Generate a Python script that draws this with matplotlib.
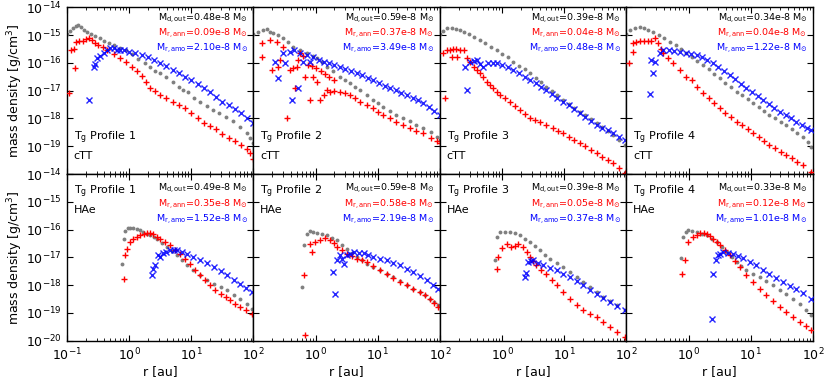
import matplotlib
matplotlib.use("Agg")
import matplotlib.pyplot as plt
from matplotlib.ticker import FixedLocator, FuncFormatter, LogLocator, NullFormatter, NullLocator
import numpy as np

# (log10 r [au], log10 rho [g/cm^3]) pairs
# gray = outer dust, red = annealed, blue = amorphous

ctt1_out = [(-1.0, -14.95), (-0.95, -14.85), (-0.9, -14.75), (-0.85, -14.68), (-0.82, -14.64), (-0.78, -14.7),
            (-0.73, -14.8), (-0.68, -14.88), (-0.62, -14.95), (-0.55, -15.02), (-0.47, -15.12), (-0.4, -15.2),
            (-0.32, -15.28), (-0.25, -15.36), (-0.15, -15.45), (-0.05, -15.55), (0.05, -15.68), (0.15, -15.85),
            (0.25, -16.0), (0.34, -16.14), (0.42, -16.28), (0.5, -16.38), (0.6, -16.5), (0.7, -16.7), (0.8, -16.88),
            (0.87, -16.98), (0.95, -17.05), (1.05, -17.25), (1.14, -17.4), (1.25, -17.55), (1.35, -17.68),
            (1.45, -17.8), (1.55, -17.95), (1.67, -18.1), (1.78, -18.3), (1.89, -18.54), (1.95, -18.7), (2.0, -18.9)]
ctt1_ann = [(-0.96, -17.07), (-0.87, -16.2), (-0.93, -15.52), (-0.88, -15.5), (-0.85, -15.25), (-0.8, -15.22),
            (-0.75, -15.2), (-0.7, -15.15), (-0.65, -15.12), (-0.6, -15.18), (-0.55, -15.28), (-0.5, -15.35),
            (-0.42, -15.42), (-0.35, -15.52), (-0.25, -15.68), (-0.15, -15.82), (-0.05, -15.98), (0.05, -16.15),
            (0.12, -16.3), (0.2, -16.48), (0.27, -16.68), (0.34, -16.9), (0.42, -17.0), (0.5, -17.15), (0.6, -17.28),
            (0.7, -17.42), (0.8, -17.52), (0.9, -17.62), (1.0, -17.82), (1.1, -18.0), (1.2, -18.15), (1.3, -18.26),
            (1.4, -18.38), (1.5, -18.55), (1.6, -18.72), (1.7, -18.82), (1.8, -18.96), (1.9, -19.1), (1.95, -19.25),
            (2.0, -19.45)]
ctt1_amo = [(-0.64, -17.34), (-0.57, -16.14), (-0.55, -16.05), (-0.52, -15.84), (-0.47, -15.75), (-0.41, -15.66),
            (-0.35, -15.55), (-0.3, -15.48), (-0.25, -15.45), (-0.2, -15.54), (-0.15, -15.52), (-0.08, -15.55),
            (0.0, -15.6), (0.1, -15.65), (0.2, -15.7), (0.3, -15.8), (0.4, -15.9), (0.5, -16.02), (0.6, -16.12),
            (0.7, -16.25), (0.8, -16.38), (0.9, -16.5), (1.0, -16.62), (1.1, -16.75), (1.2, -16.9), (1.3, -17.05),
            (1.4, -17.22), (1.5, -17.4), (1.6, -17.52), (1.7, -17.65), (1.8, -17.8), (1.9, -17.98), (2.0, -18.18)]

ctt2_out = [(-1.0, -14.95), (-0.93, -14.88), (-0.85, -14.82), (-0.79, -14.79), (-0.74, -14.88), (-0.68, -14.93),
            (-0.6, -15.0), (-0.52, -15.11), (-0.44, -15.25), (-0.36, -15.41), (-0.25, -15.52), (-0.14, -15.65),
            (-0.05, -15.75), (0.02, -15.83), (0.1, -15.98), (0.18, -16.13), (0.28, -16.3), (0.39, -16.49),
            (0.47, -16.6), (0.55, -16.73), (0.63, -16.85), (0.71, -16.97), (0.82, -17.15), (0.93, -17.33),
            (1.0, -17.45), (1.09, -17.57), (1.2, -17.72), (1.3, -17.87), (1.4, -17.98), (1.52, -18.1),
            (1.62, -18.22), (1.73, -18.35), (1.85, -18.5), (1.95, -18.65), (2.0, -18.77)]
ctt2_ann = [(-0.87, -15.77), (-0.87, -15.29), (-0.73, -15.17), (-0.71, -16.25), (-0.62, -15.23), (-0.6, -16.13),
            (-0.57, -15.89), (-0.52, -15.41), (-0.46, -17.99), (-0.41, -16.25), (-0.36, -16.19), (-0.33, -16.91),
            (-0.3, -16.13), (-0.28, -15.89), (-0.25, -15.65), (-0.2, -15.75), (-0.17, -16.49), (-0.12, -16.07),
            (-0.09, -17.33), (-0.06, -16.1), (-0.04, -16.49), (0.0, -16.2), (0.02, -16.67), (0.07, -17.33),
            (0.08, -16.3), (0.13, -17.15), (0.15, -16.4), (0.18, -16.97), (0.23, -17.03), (0.22, -16.5),
            (0.3, -16.6), (0.3, -17.0), (0.39, -17.03), (0.47, -17.1), (0.55, -17.15), (0.63, -17.28),
            (0.71, -17.39), (0.82, -17.5), (0.93, -17.63), (1.0, -17.75), (1.09, -17.87), (1.2, -17.98),
            (1.3, -18.11), (1.4, -18.22), (1.52, -18.35), (1.62, -18.45), (1.73, -18.53), (1.85, -18.7),
            (1.95, -18.82), (2.0, -18.89)]
ctt2_amo = [(-0.65, -15.95), (-0.6, -16.55), (-0.52, -15.65), (-0.49, -16.01), (-0.41, -15.59), (-0.38, -17.33),
            (-0.35, -15.55), (-0.28, -16.91), (-0.25, -15.65), (-0.2, -15.95), (-0.14, -15.72), (-0.09, -15.95),
            (-0.05, -15.8), (0.05, -15.88), (0.13, -15.95), (0.22, -16.02), (0.3, -16.08), (0.39, -16.13),
            (0.48, -16.22), (0.57, -16.3), (0.66, -16.37), (0.75, -16.45), (0.84, -16.53), (0.93, -16.61),
            (1.02, -16.72), (1.11, -16.82), (1.2, -16.91), (1.29, -16.99), (1.38, -17.07), (1.47, -17.15),
            (1.56, -17.25), (1.65, -17.35), (1.73, -17.45), (1.82, -17.58), (1.91, -17.72), (2.0, -17.87)]

ctt3_out = [(-1.0, -14.95), (-0.95, -14.85), (-0.88, -14.76), (-0.81, -14.73), (-0.74, -14.78), (-0.68, -14.83),
            (-0.62, -14.87), (-0.54, -14.95), (-0.45, -15.06), (-0.36, -15.17), (-0.27, -15.3), (-0.18, -15.42),
            (-0.09, -15.53), (0.0, -15.67), (0.09, -15.8), (0.18, -15.95), (0.27, -16.1), (0.36, -16.23),
            (0.45, -16.37), (0.54, -16.53), (0.62, -16.69), (0.71, -16.85), (0.8, -17.0), (0.89, -17.17),
            (0.98, -17.33), (1.07, -17.47), (1.16, -17.61), (1.25, -17.75), (1.34, -17.89), (1.43, -18.03),
            (1.52, -18.17), (1.61, -18.31), (1.7, -18.45), (1.79, -18.59), (1.88, -18.78), (1.97, -18.95)]
ctt3_ann = [(-0.92, -17.27), (-0.95, -15.65), (-0.89, -15.53), (-0.84, -15.52), (-0.79, -15.5), (-0.74, -15.5),
            (-0.68, -15.52), (-0.62, -15.55), (-0.8, -15.77), (-0.72, -15.77), (-0.57, -15.83), (-0.52, -15.98),
            (-0.46, -16.13), (-0.41, -16.25), (-0.36, -16.37), (-0.3, -16.52), (-0.25, -16.67), (-0.19, -16.8),
            (-0.14, -16.91), (-0.09, -17.03), (-0.04, -17.15), (0.04, -17.25), (0.13, -17.39), (0.21, -17.55),
            (0.29, -17.69), (0.37, -17.85), (0.45, -17.99), (0.53, -18.05), (0.61, -18.11), (0.71, -18.22),
            (0.82, -18.35), (0.9, -18.44), (0.98, -18.53), (1.07, -18.65), (1.16, -18.77), (1.25, -18.89),
            (1.34, -19.0), (1.43, -19.13), (1.52, -19.25), (1.61, -19.37), (1.7, -19.49), (1.79, -19.61),
            (1.88, -19.8), (1.97, -19.97)]
ctt3_amo = [(-0.57, -16.97), (-0.6, -16.13), (-0.52, -15.95), (-0.46, -15.92), (-0.41, -15.89), (-0.35, -16.05),
            (-0.3, -16.13), (-0.22, -16.01), (-0.15, -16.0), (-0.09, -16.01), (0.0, -16.08), (0.09, -16.16),
            (0.18, -16.25), (0.27, -16.37), (0.36, -16.49), (0.45, -16.61), (0.54, -16.73), (0.62, -16.85),
            (0.71, -16.97), (0.8, -17.11), (0.89, -17.25), (0.98, -17.39), (1.07, -17.53), (1.16, -17.67),
            (1.25, -17.81), (1.34, -17.95), (1.43, -18.09), (1.52, -18.23), (1.61, -18.33), (1.7, -18.43),
            (1.79, -18.53), (1.88, -18.65), (1.97, -18.77)]

ctt4_out = [(-1.0, -14.95), (-0.94, -14.83), (-0.87, -14.75), (-0.79, -14.71), (-0.72, -14.76), (-0.65, -14.81),
            (-0.57, -14.87), (-0.48, -14.99), (-0.39, -15.11), (-0.3, -15.23), (-0.21, -15.37), (-0.13, -15.51),
            (-0.04, -15.65), (0.05, -15.79), (0.14, -15.93), (0.23, -16.07), (0.32, -16.23), (0.41, -16.39),
            (0.5, -16.55), (0.59, -16.71), (0.68, -16.87), (0.77, -17.03), (0.86, -17.17), (0.95, -17.31),
            (1.04, -17.45), (1.13, -17.59), (1.22, -17.73), (1.3, -17.87), (1.39, -17.99), (1.48, -18.11),
            (1.57, -18.23), (1.66, -18.37), (1.75, -18.51), (1.84, -18.65), (1.92, -18.85), (1.97, -19.01)]
ctt4_ann = [(-0.96, -16.01), (-0.89, -15.59), (-0.89, -15.29), (-0.84, -15.25), (-0.78, -15.22), (-0.72, -15.2),
            (-0.66, -15.22), (-0.6, -15.22), (-0.54, -15.11), (-0.5, -15.3), (-0.45, -15.5), (-0.41, -15.65),
            (-0.33, -15.83), (-0.25, -16.01), (-0.14, -16.25), (-0.04, -16.49), (0.05, -16.61), (0.14, -16.85),
            (0.23, -17.09), (0.32, -17.27), (0.41, -17.45), (0.5, -17.63), (0.59, -17.79), (0.68, -17.95),
            (0.77, -18.11), (0.86, -18.25), (0.95, -18.39), (1.04, -18.53), (1.13, -18.67), (1.22, -18.81),
            (1.3, -18.95), (1.39, -19.07), (1.48, -19.19), (1.57, -19.31), (1.66, -19.43), (1.75, -19.55),
            (1.84, -19.67), (1.97, -19.91)]
ctt4_amo = [(-0.62, -17.11), (-0.57, -16.37), (-0.6, -15.89), (-0.54, -15.95), (-0.46, -15.65), (-0.41, -15.53),
            (-0.32, -15.55), (-0.23, -15.57), (-0.14, -15.59), (-0.05, -15.63), (0.04, -15.67), (0.13, -15.71),
            (0.21, -15.8), (0.3, -15.9), (0.39, -16.01), (0.48, -16.15), (0.57, -16.29), (0.66, -16.43),
            (0.75, -16.59), (0.84, -16.75), (0.93, -16.91), (1.02, -17.05), (1.11, -17.19), (1.2, -17.33),
            (1.29, -17.47), (1.38, -17.61), (1.47, -17.75), (1.56, -17.87), (1.65, -17.99), (1.73, -18.11),
            (1.82, -18.23), (1.9, -18.33), (1.97, -18.41)]

hae1_out = [(-0.12, -17.23), (-0.09, -16.33), (-0.06, -16.05), (-0.02, -15.96), (0.02, -15.93), (0.07, -15.94),
            (0.13, -15.97), (0.18, -16.03), (0.23, -16.09), (0.29, -16.15), (0.34, -16.21), (0.4, -16.27),
            (0.45, -16.33), (0.53, -16.48), (0.61, -16.63), (0.69, -16.78), (0.77, -16.93), (0.85, -17.11),
            (0.93, -17.29), (1.03, -17.47), (1.14, -17.65), (1.25, -17.8), (1.36, -17.95), (1.47, -18.07),
            (1.57, -18.19), (1.68, -18.34), (1.79, -18.49), (1.89, -18.67), (1.97, -18.85)]
hae1_ann = [(-0.09, -17.77), (-0.06, -16.93), (-0.04, -16.69), (0.02, -16.45), (0.07, -16.33), (0.13, -16.27),
            (0.18, -16.21), (0.24, -16.16), (0.29, -16.13), (0.34, -16.14), (0.39, -16.17), (0.45, -16.25),
            (0.5, -16.33), (0.58, -16.45), (0.66, -16.57), (0.74, -16.72), (0.82, -16.87), (0.9, -17.05),
            (0.98, -17.23), (1.06, -17.44), (1.14, -17.65), (1.22, -17.83), (1.3, -18.01), (1.38, -18.16),
            (1.47, -18.31), (1.55, -18.43), (1.63, -18.55), (1.71, -18.67), (1.79, -18.79), (1.88, -18.91),
            (1.97, -19.03)]
hae1_amo = [(0.37, -17.65), (0.39, -17.41), (0.42, -17.29), (0.47, -16.93), (0.5, -17.0), (0.55, -16.85),
            (0.6, -16.8), (0.66, -16.75), (0.72, -16.72), (0.77, -16.73), (0.85, -16.8), (0.93, -16.87),
            (1.03, -16.98), (1.14, -17.09), (1.25, -17.22), (1.36, -17.35), (1.47, -17.5), (1.57, -17.65),
            (1.68, -17.8), (1.79, -17.95), (1.88, -18.1), (1.97, -18.25)]

hae2_out = [(-0.22, -18.07), (-0.19, -16.57), (-0.14, -16.15), (-0.09, -16.05), (-0.04, -16.08), (0.02, -16.13),
            (0.1, -16.17), (0.18, -16.21), (0.26, -16.3), (0.34, -16.39), (0.42, -16.54), (0.5, -16.69),
            (0.58, -16.84), (0.66, -16.99), (0.74, -17.11), (0.82, -17.23), (0.93, -17.35), (1.04, -17.47),
            (1.14, -17.59), (1.25, -17.71), (1.36, -17.86), (1.47, -18.01), (1.57, -18.13), (1.68, -18.25),
            (1.76, -18.37), (1.84, -18.49), (1.91, -18.61), (1.97, -18.73)]
hae2_ann = [(-0.17, -19.81), (-0.19, -17.65), (-0.06, -16.81), (-0.09, -16.51), (-0.01, -16.45), (0.07, -16.39),
            (0.15, -16.31), (0.23, -16.39), (0.29, -16.5), (0.34, -16.63), (0.42, -16.75), (0.5, -16.87),
            (0.58, -16.96), (0.66, -17.05), (0.74, -17.11), (0.82, -17.17), (0.93, -17.32), (1.04, -17.47),
            (1.14, -17.6), (1.25, -17.73), (1.36, -17.87), (1.47, -18.01), (1.57, -18.13), (1.68, -18.25),
            (1.76, -18.37), (1.84, -18.5), (1.91, -18.64), (1.97, -18.79)]
hae2_amo = [(0.31, -18.31), (0.28, -17.53), (0.34, -17.11), (0.39, -16.93), (0.45, -17.23), (0.42, -17.05),
            (0.5, -16.93), (0.55, -16.87), (0.61, -16.81), (0.69, -16.83), (0.77, -16.85), (0.85, -16.92),
            (0.93, -16.99), (1.04, -17.05), (1.14, -17.11), (1.25, -17.2), (1.36, -17.29), (1.47, -17.41),
            (1.57, -17.53), (1.68, -17.68), (1.79, -17.83), (1.88, -17.98), (1.97, -18.13)]

hae3_out = [(-0.12, -17.09), (-0.09, -16.27), (-0.04, -16.07), (0.04, -16.07), (0.13, -16.09), (0.21, -16.14),
            (0.29, -16.21), (0.37, -16.33), (0.45, -16.45), (0.53, -16.6), (0.61, -16.75), (0.69, -16.9),
            (0.77, -17.05), (0.88, -17.2), (0.98, -17.35), (1.09, -17.53), (1.2, -17.71), (1.3, -17.89),
            (1.41, -18.07), (1.52, -18.25), (1.63, -18.43), (1.73, -18.58), (1.84, -18.73), (1.97, -18.91)]
hae3_ann = [(-0.09, -17.41), (-0.06, -16.97), (-0.01, -16.67), (0.07, -16.51), (0.15, -16.63), (0.21, -16.58),
            (0.26, -16.53), (0.34, -16.63), (0.4, -16.8), (0.45, -16.99), (0.5, -17.14), (0.55, -17.29),
            (0.63, -17.44), (0.71, -17.59), (0.8, -17.8), (0.88, -18.01), (0.98, -18.25), (1.09, -18.49),
            (1.2, -18.7), (1.3, -18.91), (1.41, -19.03), (1.52, -19.15), (1.63, -19.33), (1.73, -19.51),
            (1.84, -19.68), (1.97, -19.87)]
hae3_amo = [(0.37, -17.71), (0.39, -17.57), (0.42, -17.17), (0.46, -17.14), (0.5, -17.11), (0.58, -17.2),
            (0.66, -17.29), (0.77, -17.38), (0.88, -17.47), (0.98, -17.59), (1.09, -17.71), (1.2, -17.86),
            (1.3, -18.01), (1.41, -18.16), (1.52, -18.31), (1.63, -18.46), (1.73, -18.61), (1.84, -18.76),
            (1.97, -18.91)]

hae4_out = [(-0.13, -17.02), (-0.09, -16.27), (-0.05, -16.07), (-0.01, -16.01), (0.06, -16.05), (0.13, -16.09),
            (0.21, -16.15), (0.29, -16.21), (0.37, -16.33), (0.45, -16.45), (0.53, -16.63), (0.61, -16.81),
            (0.69, -16.99), (0.77, -17.17), (0.85, -17.32), (0.93, -17.47), (1.04, -17.59), (1.14, -17.71),
            (1.25, -17.86), (1.36, -18.01), (1.47, -18.16), (1.57, -18.31), (1.68, -18.49), (1.79, -18.67),
            (1.88, -18.88), (1.97, -19.09)]
hae4_ann = [(-0.1, -17.59), (-0.06, -17.09), (-0.01, -16.45), (0.07, -16.27), (0.13, -16.18), (0.18, -16.13),
            (0.24, -16.13), (0.29, -16.15), (0.34, -16.22), (0.39, -16.33), (0.45, -16.45), (0.5, -16.57),
            (0.58, -16.75), (0.66, -16.93), (0.74, -17.14), (0.82, -17.35), (0.93, -17.62), (1.04, -17.89),
            (1.14, -18.13), (1.25, -18.37), (1.36, -18.58), (1.47, -18.79), (1.57, -18.97), (1.68, -19.15),
            (1.79, -19.33), (1.88, -19.48), (1.97, -19.63)]
hae4_amo = [(0.37, -19.21), (0.39, -17.59), (0.44, -17.11), (0.47, -16.93), (0.51, -16.87), (0.55, -16.81),
            (0.63, -16.84), (0.71, -16.87), (0.8, -16.94), (0.88, -17.01), (0.98, -17.15), (1.09, -17.29),
            (1.2, -17.44), (1.3, -17.59), (1.41, -17.74), (1.52, -17.89), (1.63, -18.03), (1.73, -18.13),
            (1.84, -18.3), (1.97, -18.49)]

ctt_out = [ctt1_out, ctt2_out, ctt3_out, ctt4_out]
ctt_ann = [ctt1_ann, ctt2_ann, ctt3_ann, ctt4_ann]
ctt_amo = [ctt1_amo, ctt2_amo, ctt3_amo, ctt4_amo]
hae_out = [hae1_out, hae2_out, hae3_out, hae4_out]
hae_ann = [hae1_ann, hae2_ann, hae3_ann, hae4_ann]
hae_amo = [hae1_amo, hae2_amo, hae3_amo, hae4_amo]

# masses in 1e-8 Msun
ctt_m_out = ["0.48", "0.59", "0.39", "0.34"]
ctt_m_ann = ["0.09", "0.37", "0.04", "0.04"]
ctt_m_amo = ["2.10", "3.49", "0.48", "1.22"]
hae_m_out = ["0.49", "0.59", "0.39", "0.33"]
hae_m_ann = ["0.35", "0.58", "0.05", "0.12"]
hae_m_amo = ["1.52", "2.19", "0.37", "1.01"]

profiles = ["1", "2", "3", "4"]
stars = ["cTT", "HAe"]

y_ticks = [1e-20, 1e-19, 1e-18, 1e-17, 1e-16, 1e-15, 1e-14]
x_ticks = [1e-1, 1e0, 1e1, 1e2]


def unpack(pairs):
    arr = np.array(pairs, dtype=float)
    return 10 ** arr[:, 0], 10 ** arr[:, 1]


def pow_formatter(hide):
    hide_exp = [int(round(np.log10(h))) for h in hide]

    def fmt(v, pos):
        e = int(round(np.log10(v)))
        if e in hide_exp:
            return ""
        return r"$\mathdefault{10^{%d}}$" % e
    return FuncFormatter(fmt)


def draw_panel(ax, out, ann, amo, m_out, m_ann, m_amo, profile, star, row):
    r, rho = unpack(out)
    ax.plot(r, rho, "o", color="gray", ms=2.8, mew=0, zorder=2)
    r, rho = unpack(ann)
    ax.plot(r, rho, "+", color="red", ms=5, mew=1.0, zorder=3)
    r, rho = unpack(amo)
    ax.plot(r, rho, "x", color="blue", ms=4.2, mew=1.0, alpha=0.85, zorder=4)

    if row == 0:
        ys = [0.934, 0.844, 0.754]
        ax.text(0.035, 0.205, r"T$_{\rm g}$ Profile " + profile, transform=ax.transAxes, fontsize=8)
        ax.text(0.035, 0.09, star, transform=ax.transAxes, fontsize=8)
    else:
        ys = [0.916, 0.82, 0.73]
        ax.text(0.035, 0.88, r"T$_{\rm g}$ Profile " + profile, transform=ax.transAxes, fontsize=8)
        ax.text(0.035, 0.765, star, transform=ax.transAxes, fontsize=8)

    labels = [(r"M$_{\rm d,out}$=%se-8 M$_{\odot}$" % m_out, "black"),
              (r"M$_{\rm r,ann}$=%se-8 M$_{\odot}$" % m_ann, "red"),
              (r"M$_{\rm r,amo}$=%se-8 M$_{\odot}$" % m_amo, "blue")]
    for (txt, col), y in zip(labels, ys):
        ax.text(0.97, y, txt, transform=ax.transAxes, ha="right", va="center", fontsize=6.8, color=col)


def main():
    fig, axes = plt.subplots(2, 4, figsize=(8.3, 3.88), dpi=100)
    fig.subplots_adjust(left=0.0807, right=0.9795, top=0.981, bottom=0.122, wspace=0, hspace=0)

    rows = [(ctt_out, ctt_ann, ctt_amo, ctt_m_out, ctt_m_ann, ctt_m_amo),
            (hae_out, hae_ann, hae_amo, hae_m_out, hae_m_ann, hae_m_amo)]

    for i, (outs, anns, amos, mo, mn, ma) in enumerate(rows):
        for j in range(4):
            ax = axes[i, j]
            draw_panel(ax, outs[j], anns[j], amos[j], mo[j], mn[j], ma[j], profiles[j], stars[i], i)
            ax.set_xscale("log")
            ax.set_yscale("log")
            ax.set_xlim(1e-1, 1e2)
            ax.set_ylim(1e-20, 1e-14)

            ax.yaxis.set_major_locator(FixedLocator(y_ticks))
            ax.yaxis.set_minor_locator(NullLocator())
            ax.xaxis.set_major_locator(FixedLocator(x_ticks))
            ax.xaxis.set_minor_locator(LogLocator(base=10, subs=np.arange(2, 10)))
            ax.xaxis.set_minor_formatter(NullFormatter())

            if j == 0:
                ax.yaxis.set_major_formatter(pow_formatter([1e-20] if i == 0 else []))
                ax.set_ylabel(r"mass density [g/cm$^3$]", fontsize=9, labelpad=1)
            else:
                ax.yaxis.set_major_formatter(NullFormatter())

            if i == 1:
                ax.xaxis.set_major_formatter(pow_formatter([] if j == 0 else [1e-1]))
                ax.set_xlabel("r [au]", fontsize=9, labelpad=1)
            else:
                ax.xaxis.set_major_formatter(NullFormatter())

            ax.tick_params(which="both", direction="in", top=True, right=True, labelsize=9)
            ax.tick_params(which="major", length=4, width=0.8)
            ax.tick_params(which="minor", length=2, width=0.6)
            ax.tick_params(axis="x", which="major", pad=4.5)
            for sp in ax.spines.values():
                sp.set_linewidth(1.0)

    fig.savefig("out.png", dpi=100)


if __name__ == "__main__":
    main()
